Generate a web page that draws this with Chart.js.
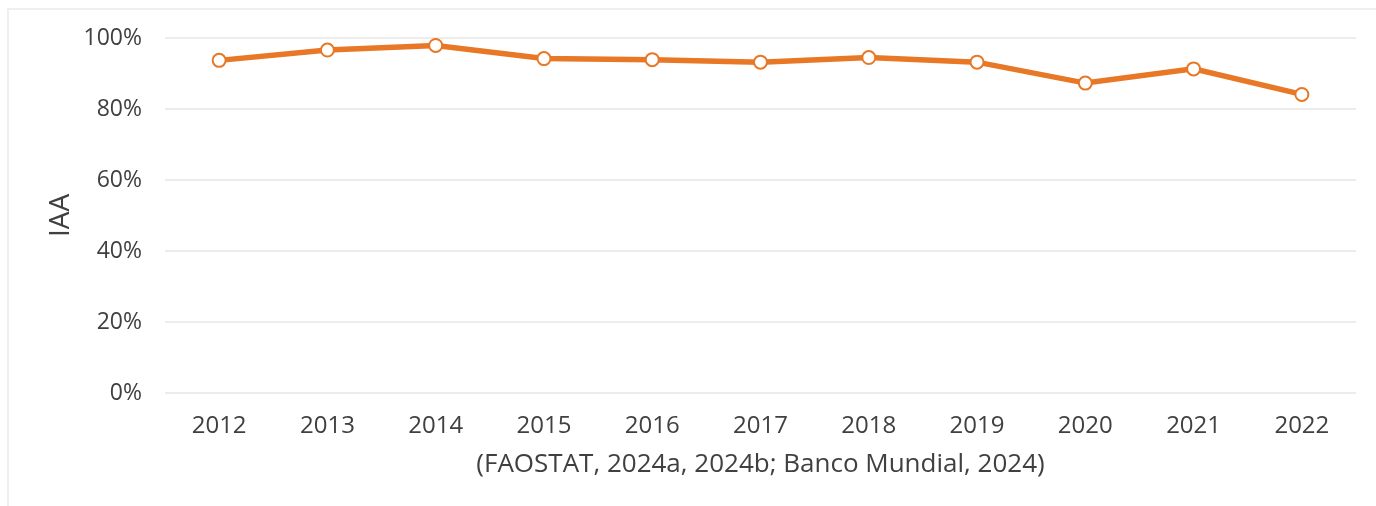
<!DOCTYPE html>
<html>
<head>
<meta charset="utf-8">
<script src="https://cdn.jsdelivr.net/npm/chart.js@4"></script>
<style>
  html, body { margin: 0; padding: 0; background: #fff; }
  #wrap { position: relative; width: 1376px; height: 506px; overflow: hidden; }
  #frame {
    position: absolute; left: 7px; top: 8px; width: 1400px; height: 520px;
    border-left: 2px solid #efefef; border-top: 2px solid #efefef;
  }
  #chart { position: absolute; left: 0; top: 0; }
</style>
</head>
<body>
<div id="wrap">
  <div id="frame"></div>
  <canvas id="chart" width="1376" height="506"></canvas>
</div>
<script>
// ---------- data ----------
const years = ["2012", "2013", "2014", "2015", "2016", "2017", "2018", "2019", "2020", "2021", "2022"];
const iaa = [0.937, 0.966, 0.979, 0.942, 0.939, 0.932, 0.945, 0.932, 0.873, 0.913, 0.841];
const yTicks = [0, 0.2, 0.4, 0.6, 0.8, 1.0];

const ORANGE = "#e87726";
const TEXT = "#404040";
const FONT = "'Open Sans', sans-serif";

// ---------- chart ----------
new Chart(document.getElementById("chart").getContext("2d"), {
  type: "line",
  data: {
    labels: years,
    datasets: [
      {
        label: "IAA",
        data: iaa,
        borderColor: ORANGE,
        borderWidth: 5.5,
        pointRadius: 6.5,
        pointBorderWidth: 2,
        pointBackgroundColor: "#fff",
        pointBorderColor: ORANGE,
        tension: 0,
      },
    ],
  },
  options: {
    responsive: false,
    animation: false,
    layout: { padding: { left: 42, right: 20, top: 38, bottom: 0 } },
    plugins: { legend: { display: false }, tooltip: { enabled: false } },
    scales: {
      x: {
        offset: true,
        grid: { display: false },
        border: { display: false },
        ticks: { color: TEXT, font: { family: FONT, size: 24 }, padding: 11 },
        title: {
          display: true,
          text: "(FAOSTAT, 2024a, 2024b; Banco Mundial, 2024)",
          color: TEXT,
          font: { family: FONT, size: 26 },
          padding: { top: 0, bottom: 26 },
        },
        afterFit: (s) => { s.height = 113; },
      },
      y: {
        min: 0,
        max: 1,
        afterBuildTicks: (s) => { s.ticks = yTicks.map((v) => ({ value: v })); },
        grid: { color: "#ececec", lineWidth: 2, drawTicks: false },
        border: { display: false },
        ticks: {
          color: TEXT,
          font: { family: FONT, size: 23 },
          padding: 23,
          callback: (v) => Math.round(v * 100) + "%",
        },
        title: {
          display: true,
          text: "IAA",
          color: TEXT,
          font: { family: FONT, size: 28 },
          padding: { top: 2, bottom: 0 },
        },
        afterFit: (s) => { s.width = 123; },
      },
    },
  },
});
</script>
</body>
</html>
